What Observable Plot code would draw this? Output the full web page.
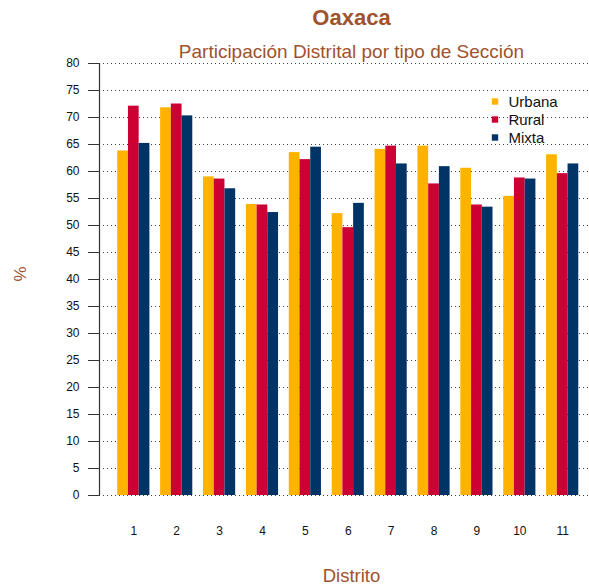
<!DOCTYPE html>
<html>
<head>
<meta charset="utf-8">
<script src="https://cdn.jsdelivr.net/npm/d3@7"></script>
<script src="https://cdn.jsdelivr.net/npm/@observablehq/plot@0.6"></script>
<style>
  html, body { margin: 0; padding: 0; background: #fff; }
  #chart svg { display: block; }
</style>
</head>
<body>
<div id="chart"></div>
<script>
const distritos = ["1","2","3","4","5","6","7","8","9","10","11"];
const urbana = [63.8, 71.8, 59.0, 53.9, 63.5, 52.2, 64.1, 64.7, 60.6, 55.4, 63.1];
const rural  = [72.1, 72.5, 58.6, 53.8, 62.2, 49.6, 64.7, 57.7, 53.8, 58.8, 59.6];
const mixta  = [65.2, 70.3, 56.8, 52.4, 64.5, 54.1, 61.4, 60.9, 53.4, 58.6, 61.4];
const tipos = ["Urbana", "Rural", "Mixta"];
const colores = ["#FFB300", "#CC0033", "#003366"];
const yTicks = [0, 5, 10, 15, 20, 25, 30, 35, 40, 45, 50, 55, 60, 65, 70, 75, 80];
const titulo = "Oaxaca";
const subtitulo = "Participación Distrital por tipo de Sección";
const xLabel = "Distrito";
const yLabel = "%";

// Layout: each district = 3 bar-width units + 1 unit gap (barplot beside style)
const series = [urbana, rural, mixta];
const rows = [];
distritos.forEach((d, i) => {
  tipos.forEach((t, j) => {
    rows.push({distrito: d, tipo: t, valor: series[j][i], x1: i * 4 + j + 1, x2: i * 4 + j + 2});
  });
});
const centers = distritos.map((d, i) => i * 4 + 2.5);
const xDomain = [-0.7, 45];
const brown = "#A0522D";
const font = "Liberation Sans, Arial, Helvetica, sans-serif";

const legendMarks = tipos.flatMap((t, j) => [
  Plot.dot([t], {frameAnchor: "top-left", dx: 395.5, dy: 38 + j * 18, symbol: "square", r: 3.6, fill: colores[j], stroke: "none"}),
  Plot.text([t], {frameAnchor: "top-left", dx: 409, dy: 43 + j * 18, text: d => d, textAnchor: "start", lineAnchor: "bottom", fontSize: 15, fill: "#111"})
]);

const chart = Plot.plot({
  width: 589,
  height: 585,
  marginLeft: 99,
  marginRight: 0,
  marginTop: 63,
  marginBottom: 90,
  style: {fontFamily: font, background: "#fff"},
  x: {type: "linear", domain: xDomain, axis: null},
  y: {domain: [0, 80], axis: null},
  marks: [
    Plot.ruleY(yTicks, {y: d => d, stroke: "#000", strokeDasharray: "1 3", strokeOpacity: 0.75}),
    Plot.rectY(rows, {x1: "x1", x2: "x2", y1: 0, y2: "valor", fill: d => colores[tipos.indexOf(d.tipo)]}),
    Plot.ruleX([xDomain[0]], {y1: yTicks[0], y2: yTicks[yTicks.length - 1], stroke: "#333", strokeWidth: 1.2}),
    Plot.axisY({ticks: yTicks, tickSize: 11, tickPadding: 9, fontSize: 12, stroke: "#333", color: "#111", label: null}),
    Plot.axisX({ticks: centers, tickFormat: (d) => distritos[centers.indexOf(d)], tickSize: 0, tickPadding: 31, fontSize: 12, color: "#111", label: null}),
    Plot.text([titulo], {frameAnchor: "top", dx: 7, dy: -38.5, lineAnchor: "bottom", text: d => d, fontSize: 22, fontWeight: "bold", fill: brown}),
    Plot.text([subtitulo], {frameAnchor: "top", dx: 7, dy: -6, lineAnchor: "bottom", text: d => d, fontSize: 19, fill: brown}),
    Plot.text([xLabel], {frameAnchor: "bottom", dx: 7, dy: 86, lineAnchor: "bottom", text: d => d, fontSize: 18.5, fill: brown}),
    Plot.text([yLabel], {frameAnchor: "left", dx: -79, dy: 2, text: d => d, rotate: -90, fontSize: 17, fill: brown}),
    ...legendMarks
  ]
});
document.getElementById("chart").append(chart);
</script>
</body>
</html>
